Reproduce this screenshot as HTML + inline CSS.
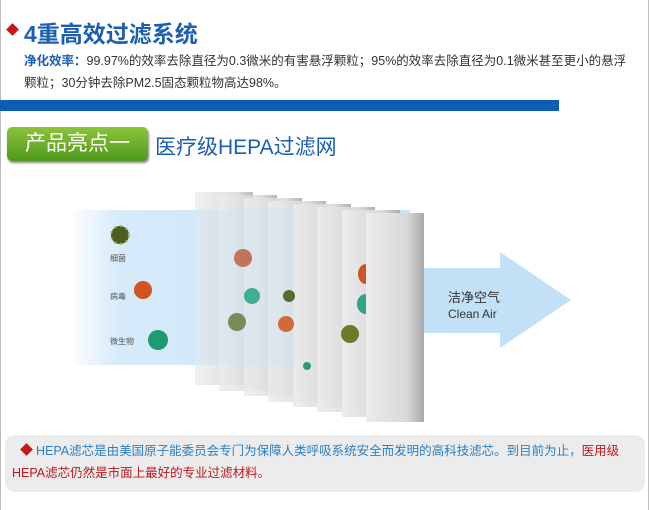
<!DOCTYPE html>
<html><head><meta charset="utf-8"><style>
body{margin:0;width:650px;height:510px;position:relative;background:#fff;overflow:hidden;font-family:"Liberation Sans","Noto Sans CJK SC",sans-serif}
.a{position:absolute;white-space:nowrap}
</style></head><body>
<div class="a" style="left:0;top:0;width:1px;height:510px;background:#bbb"></div>
<div class="a" style="left:648px;top:0;width:1px;height:510px;background:#bbb"></div>
<div class="a" style="left:8px;top:25px;width:9px;height:9px;background:#c8161d;transform:rotate(45deg)"></div>
<div class="a" style="left:24px;top:15px;font-size:23px;color:#1c5fb0;font-weight:bold">4重高效过滤系统</div>
<div class="a" style="left:24px;top:50px;font-size:12.5px;color:#333;line-height:22px">
<span style="color:#1c5fb0;font-weight:bold">净化效率：</span>99.97%的效率去除直径为0.3微米的有害悬浮颗粒；95%的效率去除直径为0.1微米甚至更小的悬浮<br>颗粒；30分钟去除PM2.5固态颗粒物高达98%。</div>
<div class="a" style="left:0;top:100px;width:559px;height:11px;background:#0e5db4"></div>
<div class="a" style="left:7px;top:127px;width:141px;height:34px;border-radius:5px;background:linear-gradient(#8cc43c,#4f9a1a);box-shadow:1px 2px 2px #888;color:#fff;font-size:21px;line-height:34px;text-align:center">产品亮点一</div>
<div class="a" style="left:155px;top:131px;font-size:21px;color:#1c5fb0">医疗级HEPA过滤网</div>
<svg class="a" style="left:0;top:0" width="650" height="510">
<defs>
<linearGradient id="beam" x1="0" x2="1"><stop offset="0" stop-color="#cfe6f8" stop-opacity="0"/><stop offset="0.15" stop-color="#d6eafa"/><stop offset="1" stop-color="#c9e3f7"/></linearGradient>
<linearGradient id="pan" x1="0" x2="1"><stop offset="0" stop-color="#ececec"/><stop offset="0.7" stop-color="#d8d8d8"/><stop offset="1" stop-color="#a8a8a8"/></linearGradient>
</defs>
<rect x="70" y="210" width="340" height="155" fill="url(#beam)"/>
<g>
<rect x="195" y="192" width="58" height="193" fill="url(#pan)" opacity="0.8"/>
<rect x="219" y="195" width="58" height="196" fill="url(#pan)" opacity="0.8"/>
<rect x="244" y="198" width="58" height="198" fill="url(#pan)" opacity="0.82"/>
<rect x="268" y="201" width="58" height="201" fill="url(#pan)" opacity="0.85"/>
<rect x="293" y="204" width="58" height="203" fill="url(#pan)" opacity="0.9"/>
<rect x="317" y="207" width="58" height="205" fill="url(#pan)" opacity="0.9"/>
<rect x="342" y="210" width="58" height="207" fill="url(#pan)" opacity="0.95"/>
<rect x="366" y="213" width="58" height="209" fill="url(#pan)"/>
</g>
<rect x="195" y="210" width="100" height="155" fill="#cfe6f8" opacity="0.35"/>
<circle cx="243" cy="258" r="9" fill="#c0745a"/>
<circle cx="252" cy="296" r="8" fill="#3fae94"/>
<circle cx="237" cy="322" r="9" fill="#7a8a5a"/>
<circle cx="286" cy="324" r="8" fill="#d06a3a"/>
<circle cx="289" cy="296" r="6" fill="#556b2f"/>
<circle cx="307" cy="366" r="4" fill="#2a9a7a"/>
<circle cx="350" cy="334" r="9" fill="#6b7a2a"/>
<path d="M366 264 a8 10 0 0 0 0 20z" fill="#d0542a"/>
<path d="M366 294 a9 10 0 0 0 0 20z" fill="#2fa488"/>
<circle cx="120" cy="235" r="9" fill="#4b5e22" stroke="#a6b84a" stroke-width="2" stroke-dasharray="2 4"/>
<circle cx="143" cy="290" r="9" fill="#d0541f"/>
<circle cx="158" cy="340" r="10" fill="#1f9a72"/>
<text x="110" y="261" font-size="8" fill="#555">细菌</text>
<text x="110" y="299" font-size="8" fill="#555">病毒</text>
<text x="110" y="344" font-size="8" fill="#555">微生物</text>
<path d="M424 268 H500 V252 L571 300 L500 348 V333 H424Z" fill="#c3e1f6"/>
<text x="448" y="302" font-size="13" fill="#333">洁净空气</text>
<text x="448" y="318" font-size="12" fill="#333">Clean Air</text>
</svg>
<div class="a" style="left:5px;top:435px;width:640px;height:57px;border-radius:10px;background:#ececec"></div>
<div class="a" style="left:22px;top:445px;width:9px;height:9px;background:#c8161d;transform:rotate(45deg)"></div>
<div class="a" style="left:12px;top:440px;font-size:12.5px;line-height:22px;color:#2b7fc4"><span style="display:inline-block;width:24px"></span>HEPA滤芯是由美国原子能委员会专门为保障人类呼吸系统安全而发明的高科技滤芯。到目前为止，<span style="color:#c0161d">医用级</span><br><span style="color:#c0161d">HEPA滤芯仍然是市面上最好的专业过滤材料。</span></div>
</body></html>
